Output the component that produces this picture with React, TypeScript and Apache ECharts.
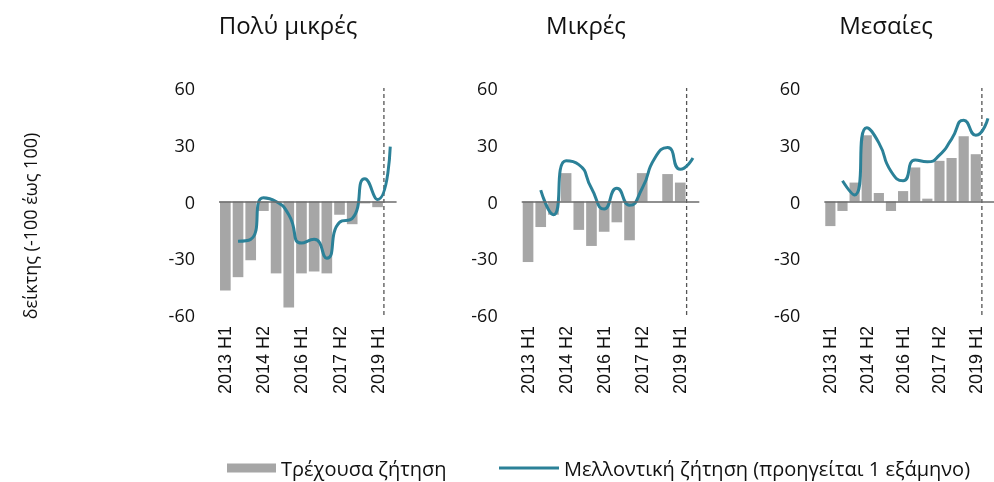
import React, { useEffect, useRef } from "react";
import * as echarts from "echarts";

const categories = [
  "2013 H1", "2013 H2", "2014 H1", "2014 H2", "2015 H1", "2015 H2", "2016 H1",
  "2016 H2", "2017 H1", "2017 H2", "2018 H1", "2018 H2", "2019 H1", "2019 H2",
];

const panelTitles = ["Πολύ μικρές", "Μικρές", "Μεσαίες"];

const currentVerySmall = [-47, -40, -31, -5, -38, -56, -38, -37, -38, -7, -12, -1, -3, null];
const futureVerySmall = [null, -21, -20, 2, 0, -7, -22, -20, -30, -11, -9, 12, 1, 29];

const currentSmall = [-32, -13.5, -7, 15, -15, -23.5, -16, -11, -20.5, 15, 0, 14.5, 10, null];
const futureSmall = [null, 6, -7, 21.5, 19.5, 7, -4, 7, -2, 7, 23, 28.5, 17, 23];

const currentMedium = [-13, -5, 10, 35, 4.5, -5, 5.5, 18, 1.5, 21.5, 23, 34.5, 25, null];
const futureMedium = [null, 11, 3.5, 39, 31, 16, 11, 22, 21, 24.5, 33, 43, 35, 44];

const yTicks = [-60, -30, 0, 30, 60];
const forecastBoundary = 13; // boundary between 2019 H1 and 2019 H2

const currentName = "Τρέχουσα ζήτηση";
const futureName = "Μελλοντική ζήτηση (προηγείται 1 εξάμηνο)";
const yAxisTitle = "δείκτης (-100 έως 100)";

const BAR_COLOR = "#a6a6a6";
const LINE_COLOR = "#2b8198";
const TEXT_COLOR = "#111111";

export default function App() {
  const ref = useRef<HTMLDivElement>(null);

  useEffect(() => {
    if (!ref.current) return;
    const chart = echarts.init(ref.current, undefined, { renderer: "svg" });

    const barsData = [currentVerySmall, currentSmall, currentMedium];
    const lineData = [futureVerySmall, futureSmall, futureMedium];
    const gridLefts = [219, 521.7, 824.3];
    const gridWidth = 177.6;
    const titleCenters = [288, 586, 886];

    const grids = gridLefts.map((l) => ({ left: l, top: 88, width: gridWidth, height: 227 }));

    const catAxes = gridLefts.map((_, i) => ({
      type: "category",
      gridIndex: i,
      data: categories,
      axisLine: { show: false },
      axisTick: { show: false },
      axisLabel: {
        interval: 2,
        rotate: 90,
        fontSize: 18,
        fontFamily: "Liberation Sans",
        color: TEXT_COLOR,
        margin: 11,
      },
    }));
    const valAxesX = gridLefts.map((_, i) => ({
      type: "value",
      gridIndex: i,
      min: 0,
      max: categories.length,
      show: false,
    }));
    const yAxes = gridLefts.map((_, i) => ({
      type: "value",
      gridIndex: i,
      min: yTicks[0],
      max: yTicks[yTicks.length - 1],
      interval: 30,
      axisLine: { show: false },
      axisTick: { show: false },
      splitLine: { show: false },
      axisLabel: {
        fontSize: 18,
        fontFamily: "Open Sans",
        color: TEXT_COLOR,
        margin: 24,
      },
    }));

    const series: any[] = [];
    gridLefts.forEach((_, i) => {
      series.push({
        name: currentName,
        type: "bar",
        xAxisIndex: i,
        yAxisIndex: i,
        data: barsData[i],
        barCategoryGap: "16%",
        itemStyle: { color: BAR_COLOR },
        markLine: {
          silent: true,
          symbol: "none",
          label: { show: false },
          lineStyle: { color: "#6b6b6b", width: 1.5, type: "solid" },
          data: [{ yAxis: 0 }],
        },
      });
      series.push({
        name: "boundary" + i,
        type: "line",
        xAxisIndex: 3 + i,
        yAxisIndex: i,
        data: [
          [forecastBoundary, yTicks[0]],
          [forecastBoundary, yTicks[yTicks.length - 1]],
        ],
        symbol: "none",
        silent: true,
        lineStyle: { color: "#555555", width: 1.3, type: [4, 3] },
        z: 3,
      });
      series.push({
        name: futureName,
        type: "line",
        xAxisIndex: i,
        yAxisIndex: i,
        data: lineData[i],
        smooth: 0.6,
        symbol: "none",
        color: LINE_COLOR,
        lineStyle: { color: LINE_COLOR, width: 3 },
        z: 4,
      });
    });

    const graphics: any[] = panelTitles.map((t, i) => ({
      type: "text",
      x: titleCenters[i],
      y: 24,
      style: {
        text: t,
        fill: TEXT_COLOR,
        font: "24px 'Open Sans'",
        textAlign: "center",
        textVerticalAlign: "middle",
      },
    }));
    graphics.push({
      type: "text",
      x: 30,
      y: 226,
      rotation: Math.PI / 2,
      style: {
        text: yAxisTitle,
        fill: TEXT_COLOR,
        font: "18px 'Open Sans'",
        textAlign: "center",
        textVerticalAlign: "middle",
      },
    });

    chart.setOption({
      animation: false,
      grid: grids,
      xAxis: [...catAxes, ...valAxesX],
      yAxis: yAxes,
      series,
      graphic: graphics,
      legend: [
        {
          data: [currentName],
          left: 222,
          top: 453,
          icon: "rect",
          itemWidth: 49,
          itemHeight: 9,
          textStyle: { fontSize: 20, fontFamily: "Open Sans", color: TEXT_COLOR },
        },
        {
          data: [futureName],
          left: 494,
          top: 453,
          icon: "rect",
          itemWidth: 60,
          itemHeight: 3,
          textStyle: { fontSize: 20, fontFamily: "Open Sans", color: TEXT_COLOR },
        },
      ],
    });

    return () => chart.dispose();
  }, []);

  return (
    <div
      ref={ref}
      style={{ position: "fixed", left: 0, top: 0, width: 994, height: 482 }}
    />
  );
}
